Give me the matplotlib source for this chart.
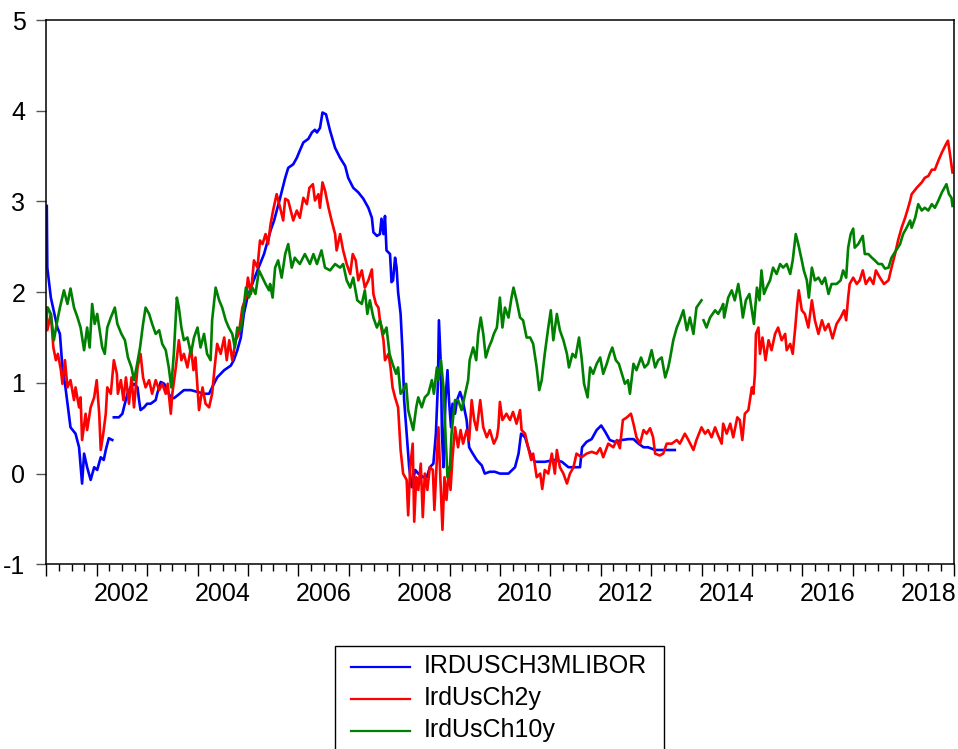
import numpy as np
import matplotlib
matplotlib.use('Agg')
import matplotlib.pyplot as plt
from matplotlib.lines import Line2D
from matplotlib.patches import Rectangle

plt.rcParams['font.family'] = ['Liberation Sans', 'DejaVu Sans']

# (decimal year, percent)
libor = [
    (2001.01, 2.95), (2001.02, 2.27), (2001.09, 1.94), (2001.22, 1.61), (2001.27, 1.54),
    (2001.32, 1.17), (2001.38, 0.95), (2001.43, 0.73), (2001.48, 0.51), (2001.58, 0.44),
    (2001.65, 0.29), (2001.71, -0.11), (2001.75, 0.22), (2001.81, 0.07), (2001.88, -0.07),
    (2001.95, 0.07), (2002.01, 0.04), (2002.08, 0.18), (2002.14, 0.15), (2002.18, 0.26),
    (2002.24, 0.39), (2002.31, 0.37), (2002.325, np.nan),
    (2002.34, 0.62), (2002.44, 0.62), (2002.51, 0.66), (2002.54, 0.73), (2002.61, 0.88),
    (2002.67, 0.95), (2002.74, 0.99), (2002.81, 0.95), (2002.84, 0.81), (2002.87, 0.70),
    (2002.94, 0.73), (2003.00, 0.77), (2003.07, 0.77), (2003.17, 0.81), (2003.20, 0.88),
    (2003.27, 1.01), (2003.34, 0.99), (2003.43, 0.88), (2003.47, 0.84), (2003.53, 0.83),
    (2003.60, 0.86), (2003.73, 0.92), (2003.87, 0.92), (2004.00, 0.90), (2004.13, 0.88),
    (2004.23, 0.88), (2004.29, 0.95), (2004.39, 1.06), (2004.53, 1.14), (2004.66, 1.19),
    (2004.72, 1.25), (2004.79, 1.36), (2004.86, 1.50), (2004.92, 1.76), (2004.99, 1.94),
    (2005.06, 2.05), (2005.19, 2.24), (2005.32, 2.42), (2005.45, 2.68), (2005.52, 2.79),
    (2005.64, 3.04), (2005.74, 3.26), (2005.80, 3.37), (2005.90, 3.41), (2005.97, 3.48),
    (2006.03, 3.56), (2006.10, 3.65), (2006.20, 3.69), (2006.27, 3.76), (2006.33, 3.79),
    (2006.37, 3.76), (2006.43, 3.81), (2006.48, 3.98), (2006.55, 3.96), (2006.63, 3.78),
    (2006.73, 3.59), (2006.83, 3.48), (2006.93, 3.39), (2006.99, 3.26), (2007.09, 3.15),
    (2007.19, 3.10), (2007.29, 3.03), (2007.39, 2.93), (2007.46, 2.82), (2007.49, 2.66),
    (2007.56, 2.62), (2007.62, 2.64), (2007.65, 2.81), (2007.69, 2.64), (2007.72, 2.84),
    (2007.75, 2.46), (2007.82, 2.42), (2007.85, 2.11), (2007.88, 2.13), (2007.92, 2.38),
    (2007.95, 2.27), (2007.98, 2.00), (2008.03, 1.76), (2008.07, 1.32), (2008.10, 0.81),
    (2008.15, 0.44), (2008.20, 0.07), (2008.25, -0.15), (2008.32, 0.04), (2008.38, 0.00),
    (2008.48, -0.04), (2008.55, -0.04), (2008.61, 0.07), (2008.68, 0.11), (2008.73, 0.44),
    (2008.77, 0.99), (2008.79, 1.69), (2008.83, 1.17), (2008.85, 0.44), (2008.88, 0.07),
    (2008.92, 0.81), (2008.96, 1.14), (2008.99, 0.81), (2009.03, 0.51), (2009.06, 0.77),
    (2009.11, 0.66), (2009.15, 0.81), (2009.21, 0.90), (2009.26, 0.81), (2009.34, 0.59),
    (2009.39, 0.29), (2009.44, 0.24), (2009.54, 0.15), (2009.64, 0.09), (2009.70, 0.00),
    (2009.80, 0.02), (2009.90, 0.02), (2010.00, 0.00), (2010.17, 0.00), (2010.30, 0.07),
    (2010.37, 0.22), (2010.42, 0.44), (2010.50, 0.40), (2010.56, 0.29), (2010.63, 0.18),
    (2010.70, 0.13), (2010.89, 0.13), (2011.09, 0.15), (2011.23, 0.13), (2011.36, 0.07),
    (2011.59, 0.07), (2011.63, 0.29), (2011.72, 0.35), (2011.82, 0.38), (2011.92, 0.48),
    (2012.01, 0.53), (2012.09, 0.46), (2012.18, 0.37), (2012.28, 0.35), (2012.42, 0.37),
    (2012.55, 0.38), (2012.65, 0.38), (2012.75, 0.33), (2012.85, 0.29), (2012.94, 0.29),
    (2013.08, 0.26), (2013.21, 0.26), (2013.34, 0.26), (2013.47, 0.26),
]

ch2y = [
    (2001.00, 1.83), (2001.02, 1.58), (2001.09, 1.76), (2001.14, 1.39), (2001.19, 1.25),
    (2001.23, 1.32), (2001.29, 1.14), (2001.32, 0.99), (2001.37, 1.25), (2001.42, 0.95),
    (2001.48, 1.03), (2001.55, 0.81), (2001.58, 0.95), (2001.65, 0.73), (2001.68, 0.84),
    (2001.71, 0.37), (2001.78, 0.66), (2001.81, 0.48), (2001.88, 0.73), (2001.95, 0.84),
    (2002.00, 1.03), (2002.05, 0.66), (2002.08, 0.26), (2002.13, 0.44), (2002.18, 0.66),
    (2002.21, 0.95), (2002.28, 0.88), (2002.34, 1.25), (2002.40, 1.10), (2002.42, 0.88),
    (2002.48, 1.03), (2002.53, 0.81), (2002.58, 1.06), (2002.64, 0.77), (2002.69, 1.06),
    (2002.74, 0.73), (2002.81, 1.17), (2002.87, 1.32), (2002.92, 1.06), (2002.97, 0.95),
    (2003.04, 1.03), (2003.10, 0.88), (2003.17, 1.03), (2003.24, 0.92), (2003.30, 0.99),
    (2003.37, 0.88), (2003.41, 0.99), (2003.47, 0.66), (2003.50, 0.88), (2003.57, 1.17),
    (2003.63, 1.47), (2003.68, 1.25), (2003.73, 1.32), (2003.80, 1.17), (2003.87, 1.39),
    (2003.92, 1.14), (2003.96, 1.28), (2004.00, 0.95), (2004.03, 0.70), (2004.10, 0.95),
    (2004.16, 0.77), (2004.23, 0.73), (2004.29, 0.88), (2004.34, 1.17), (2004.39, 1.43),
    (2004.46, 1.32), (2004.53, 1.50), (2004.58, 1.25), (2004.63, 1.47), (2004.69, 1.25),
    (2004.76, 1.47), (2004.82, 1.54), (2004.89, 1.83), (2004.96, 1.94), (2005.00, 2.16),
    (2005.06, 1.98), (2005.12, 2.35), (2005.19, 2.27), (2005.24, 2.57), (2005.29, 2.53),
    (2005.35, 2.64), (2005.40, 2.53), (2005.45, 2.75), (2005.50, 2.90), (2005.57, 3.08),
    (2005.64, 2.93), (2005.70, 2.79), (2005.74, 3.03), (2005.80, 3.01), (2005.90, 2.79),
    (2005.97, 2.90), (2006.03, 2.82), (2006.10, 3.04), (2006.17, 2.97), (2006.22, 3.15),
    (2006.29, 3.19), (2006.33, 3.01), (2006.40, 3.08), (2006.43, 2.93), (2006.48, 3.21),
    (2006.53, 3.12), (2006.60, 2.93), (2006.66, 2.79), (2006.73, 2.64), (2006.76, 2.46),
    (2006.83, 2.64), (2006.89, 2.46), (2006.96, 2.31), (2007.03, 2.20), (2007.08, 2.42),
    (2007.14, 2.35), (2007.19, 2.13), (2007.26, 2.24), (2007.32, 2.05), (2007.39, 2.13),
    (2007.46, 2.25), (2007.49, 1.98), (2007.54, 1.87), (2007.59, 1.83), (2007.62, 1.69),
    (2007.69, 1.47), (2007.72, 1.25), (2007.79, 1.32), (2007.83, 1.17), (2007.87, 0.95),
    (2007.92, 0.84), (2007.98, 0.73), (2008.03, 0.26), (2008.08, 0.00), (2008.15, -0.07),
    (2008.18, -0.46), (2008.22, 0.07), (2008.27, 0.33), (2008.30, -0.53), (2008.34, -0.04),
    (2008.38, -0.18), (2008.43, 0.11), (2008.47, -0.48), (2008.51, 0.00), (2008.56, -0.18),
    (2008.61, 0.07), (2008.67, 0.04), (2008.70, -0.40), (2008.75, 0.18), (2008.78, 0.51),
    (2008.81, 0.07), (2008.86, -0.62), (2008.90, -0.04), (2008.94, -0.29), (2008.99, 0.07),
    (2009.02, -0.18), (2009.06, 0.18), (2009.11, 0.51), (2009.17, 0.29), (2009.22, 0.48),
    (2009.27, 0.33), (2009.34, 0.48), (2009.39, 0.37), (2009.44, 0.81), (2009.49, 0.59),
    (2009.54, 0.48), (2009.61, 0.81), (2009.67, 0.51), (2009.74, 0.40), (2009.80, 0.48),
    (2009.88, 0.33), (2009.94, 0.40), (2009.97, 0.51), (2010.00, 0.79), (2010.05, 0.59),
    (2010.13, 0.66), (2010.20, 0.59), (2010.26, 0.68), (2010.33, 0.55), (2010.40, 0.70),
    (2010.43, 0.48), (2010.50, 0.44), (2010.56, 0.29), (2010.62, 0.15), (2010.66, 0.22),
    (2010.73, -0.04), (2010.80, 0.00), (2010.84, -0.17), (2010.89, 0.04), (2010.96, 0.00),
    (2011.03, 0.22), (2011.09, 0.00), (2011.13, 0.26), (2011.19, 0.07), (2011.26, 0.00),
    (2011.33, -0.11), (2011.39, 0.00), (2011.46, 0.07), (2011.52, 0.22), (2011.62, 0.18),
    (2011.72, 0.22), (2011.82, 0.24), (2011.92, 0.22), (2011.99, 0.28), (2012.05, 0.18),
    (2012.15, 0.33), (2012.25, 0.29), (2012.32, 0.37), (2012.38, 0.28), (2012.44, 0.59),
    (2012.52, 0.62), (2012.60, 0.66), (2012.65, 0.55), (2012.71, 0.40), (2012.78, 0.33),
    (2012.85, 0.48), (2012.91, 0.44), (2012.98, 0.50), (2013.04, 0.40), (2013.08, 0.22),
    (2013.17, 0.20), (2013.24, 0.22), (2013.31, 0.33), (2013.41, 0.33), (2013.51, 0.37),
    (2013.57, 0.33), (2013.67, 0.44), (2013.74, 0.37), (2013.84, 0.26), (2013.90, 0.37),
    (2014.00, 0.51), (2014.07, 0.44), (2014.13, 0.48), (2014.20, 0.40), (2014.27, 0.51),
    (2014.33, 0.42), (2014.40, 0.33), (2014.43, 0.55), (2014.50, 0.44), (2014.57, 0.55),
    (2014.63, 0.40), (2014.71, 0.62), (2014.76, 0.59), (2014.81, 0.37), (2014.86, 0.66),
    (2014.93, 0.70), (2015.00, 0.95), (2015.03, 0.88), (2015.06, 1.10), (2015.08, 1.54),
    (2015.13, 1.61), (2015.16, 1.32), (2015.21, 1.50), (2015.27, 1.25), (2015.33, 1.47),
    (2015.39, 1.36), (2015.46, 1.54), (2015.52, 1.61), (2015.59, 1.47), (2015.66, 1.54),
    (2015.69, 1.36), (2015.76, 1.43), (2015.81, 1.32), (2015.86, 1.61), (2015.90, 1.87),
    (2015.93, 2.02), (2015.99, 1.80), (2016.05, 1.76), (2016.12, 1.61), (2016.19, 1.91),
    (2016.25, 1.69), (2016.32, 1.54), (2016.39, 1.69), (2016.45, 1.58), (2016.52, 1.65),
    (2016.60, 1.49), (2016.68, 1.65), (2016.76, 1.72), (2016.83, 1.80), (2016.87, 1.69),
    (2016.91, 1.94), (2016.94, 2.09), (2017.01, 2.16), (2017.08, 2.09), (2017.14, 2.13),
    (2017.20, 2.24), (2017.26, 2.09), (2017.34, 2.16), (2017.41, 2.09), (2017.46, 2.24),
    (2017.54, 2.16), (2017.62, 2.09), (2017.71, 2.13), (2017.77, 2.27), (2017.84, 2.42),
    (2017.90, 2.57), (2017.97, 2.71), (2018.04, 2.82), (2018.10, 2.93), (2018.14, 3.01),
    (2018.17, 3.08), (2018.27, 3.15), (2018.37, 3.21), (2018.43, 3.26), (2018.50, 3.28),
    (2018.57, 3.35), (2018.63, 3.35), (2018.70, 3.45), (2018.77, 3.54), (2018.85, 3.63),
    (2018.89, 3.67), (2018.93, 3.52), (2018.98, 3.32),
]

ch10y = [
    (2001.00, 1.69), (2001.03, 1.83), (2001.09, 1.76), (2001.15, 1.47), (2001.22, 1.69),
    (2001.27, 1.83), (2001.35, 2.02), (2001.42, 1.87), (2001.48, 2.04), (2001.55, 1.83),
    (2001.62, 1.72), (2001.68, 1.61), (2001.75, 1.36), (2001.81, 1.61), (2001.86, 1.39),
    (2001.91, 1.87), (2001.96, 1.65), (2002.01, 1.76), (2002.07, 1.54), (2002.11, 1.39),
    (2002.16, 1.32), (2002.21, 1.61), (2002.28, 1.72), (2002.36, 1.83), (2002.41, 1.65),
    (2002.49, 1.54), (2002.56, 1.47), (2002.62, 1.28), (2002.69, 1.17), (2002.74, 1.03),
    (2002.79, 1.17), (2002.86, 1.39), (2002.92, 1.65), (2002.97, 1.83), (2003.04, 1.76),
    (2003.10, 1.65), (2003.17, 1.54), (2003.24, 1.58), (2003.30, 1.43), (2003.37, 1.36),
    (2003.43, 1.17), (2003.48, 0.95), (2003.53, 1.32), (2003.59, 1.94), (2003.63, 1.83),
    (2003.68, 1.61), (2003.73, 1.47), (2003.80, 1.50), (2003.87, 1.32), (2003.93, 1.50),
    (2004.00, 1.61), (2004.06, 1.39), (2004.13, 1.54), (2004.19, 1.32), (2004.26, 1.25),
    (2004.29, 1.69), (2004.36, 2.05), (2004.43, 1.91), (2004.49, 1.83), (2004.56, 1.69),
    (2004.62, 1.61), (2004.69, 1.54), (2004.74, 1.39), (2004.79, 1.61), (2004.86, 1.58),
    (2004.91, 1.80), (2004.96, 2.05), (2005.02, 1.94), (2005.09, 2.05), (2005.15, 1.98),
    (2005.22, 2.24), (2005.29, 2.16), (2005.35, 2.09), (2005.42, 2.02), (2005.44, 2.09),
    (2005.49, 1.94), (2005.54, 2.27), (2005.60, 2.35), (2005.67, 2.16), (2005.74, 2.42),
    (2005.80, 2.53), (2005.87, 2.27), (2005.93, 2.38), (2006.03, 2.31), (2006.13, 2.42),
    (2006.23, 2.31), (2006.30, 2.42), (2006.37, 2.31), (2006.46, 2.46), (2006.53, 2.27),
    (2006.63, 2.24), (2006.73, 2.31), (2006.83, 2.27), (2006.89, 2.31), (2006.96, 2.13),
    (2007.03, 2.05), (2007.09, 2.16), (2007.17, 1.91), (2007.26, 1.87), (2007.32, 2.02),
    (2007.37, 1.76), (2007.42, 1.91), (2007.49, 1.72), (2007.56, 1.61), (2007.62, 1.69),
    (2007.69, 1.54), (2007.75, 1.61), (2007.81, 1.32), (2007.87, 1.21), (2007.94, 1.10),
    (2007.98, 1.17), (2008.03, 0.88), (2008.08, 0.92), (2008.14, 0.99), (2008.18, 0.70),
    (2008.23, 0.59), (2008.28, 0.48), (2008.34, 0.73), (2008.38, 0.84), (2008.45, 0.73),
    (2008.51, 0.84), (2008.58, 0.88), (2008.65, 1.03), (2008.69, 0.88), (2008.75, 1.17),
    (2008.78, 1.03), (2008.83, 1.25), (2008.88, 0.95), (2008.92, 0.44), (2008.96, -0.04),
    (2009.01, 0.07), (2009.04, 0.44), (2009.08, 0.66), (2009.11, 0.81), (2009.17, 0.81),
    (2009.24, 0.70), (2009.31, 0.88), (2009.37, 1.03), (2009.40, 1.25), (2009.47, 1.39),
    (2009.53, 1.25), (2009.57, 1.54), (2009.62, 1.72), (2009.67, 1.54), (2009.72, 1.28),
    (2009.78, 1.39), (2009.84, 1.47), (2009.88, 1.54), (2009.94, 1.61), (2010.00, 1.94),
    (2010.05, 1.61), (2010.10, 1.83), (2010.17, 1.72), (2010.23, 1.94), (2010.27, 2.05),
    (2010.33, 1.91), (2010.40, 1.72), (2010.46, 1.69), (2010.53, 1.50), (2010.60, 1.50),
    (2010.66, 1.43), (2010.73, 1.17), (2010.78, 0.92), (2010.83, 1.03), (2010.89, 1.32),
    (2010.96, 1.61), (2011.01, 1.80), (2011.06, 1.47), (2011.13, 1.76), (2011.19, 1.58),
    (2011.26, 1.47), (2011.33, 1.32), (2011.37, 1.17), (2011.44, 1.32), (2011.50, 1.28),
    (2011.57, 1.50), (2011.62, 1.28), (2011.67, 0.99), (2011.74, 0.84), (2011.79, 1.17),
    (2011.85, 1.10), (2011.92, 1.21), (2011.99, 1.28), (2012.05, 1.10), (2012.12, 1.21),
    (2012.18, 1.32), (2012.23, 1.39), (2012.30, 1.25), (2012.36, 1.21), (2012.42, 1.10),
    (2012.48, 0.99), (2012.54, 1.03), (2012.58, 0.88), (2012.65, 1.21), (2012.71, 1.14),
    (2012.80, 1.28), (2012.87, 1.17), (2012.94, 1.21), (2013.01, 1.36), (2013.08, 1.17),
    (2013.14, 1.25), (2013.21, 1.28), (2013.28, 1.06), (2013.34, 1.17), (2013.38, 1.28),
    (2013.44, 1.47), (2013.51, 1.61), (2013.57, 1.69), (2013.64, 1.80), (2013.71, 1.58),
    (2013.77, 1.72), (2013.84, 1.54), (2013.90, 1.83), (2014.00, 1.91), (2014.02, np.nan),
    (2014.04, 1.69),
    (2014.10, 1.61), (2014.17, 1.72), (2014.27, 1.80), (2014.33, 1.76), (2014.40, 1.83),
    (2014.43, 1.87), (2014.45, 1.72), (2014.53, 1.94), (2014.60, 2.02), (2014.66, 1.91),
    (2014.73, 2.09), (2014.78, 1.91), (2014.82, 1.72), (2014.88, 1.91), (2014.95, 1.98),
    (2015.00, 1.80), (2015.04, 1.65), (2015.10, 2.05), (2015.15, 1.91), (2015.19, 2.24),
    (2015.24, 1.98), (2015.29, 2.05), (2015.36, 2.13), (2015.42, 2.27), (2015.49, 2.20),
    (2015.56, 2.31), (2015.62, 2.27), (2015.69, 2.31), (2015.76, 2.20), (2015.81, 2.35),
    (2015.87, 2.64), (2015.92, 2.53), (2015.99, 2.35), (2016.03, 2.24), (2016.09, 2.13),
    (2016.13, 1.94), (2016.19, 2.27), (2016.25, 2.13), (2016.32, 2.16), (2016.39, 2.09),
    (2016.45, 2.16), (2016.52, 1.98), (2016.58, 2.09), (2016.68, 2.09), (2016.76, 2.13),
    (2016.81, 2.24), (2016.87, 2.16), (2016.91, 2.49), (2016.96, 2.64), (2017.01, 2.70),
    (2017.04, 2.49), (2017.11, 2.53), (2017.20, 2.62), (2017.24, 2.42), (2017.31, 2.42),
    (2017.38, 2.38), (2017.44, 2.35), (2017.51, 2.31), (2017.58, 2.31), (2017.64, 2.26),
    (2017.71, 2.27), (2017.77, 2.38), (2017.86, 2.46), (2017.94, 2.53), (2018.00, 2.64),
    (2018.07, 2.71), (2018.14, 2.79), (2018.17, 2.71), (2018.24, 2.82), (2018.30, 2.97),
    (2018.37, 2.90), (2018.43, 2.93), (2018.50, 2.90), (2018.57, 2.97), (2018.63, 2.93),
    (2018.70, 3.01), (2018.77, 3.10), (2018.82, 3.15), (2018.86, 3.19), (2018.91, 3.08),
    (2018.96, 3.04), (2018.98, 2.95),
]

series_names = ['IRDUSCH3MLIBOR', 'IrdUsCh2y', 'IrdUsCh10y']
series_colors = ['#0000ff', '#ff0000', '#008000']
y_ticks = [-1, 0, 1, 2, 3, 4, 5]
label_years = list(range(2002, 2019, 2))

W, H = 958, 749
fig = plt.figure(figsize=(W / 100, H / 100), dpi=100)
ax = fig.add_axes([46.3 / W, 1 - 564.3 / H, 907.2 / W, 544.3 / H])

for data, col in zip([libor, ch2y, ch10y], series_colors):
    arr = np.array(data)
    ax.plot(arr[:, 0], arr[:, 1], color=col, lw=1.9)

ax.set_xlim(2001, 2019)
ax.set_ylim(-1, 5)

ax.set_yticks(y_ticks)
ax.set_yticklabels([str(v) for v in y_ticks])
ax.tick_params(axis='y', direction='out', length=7.5, width=1, color='#555555',
               pad=7.5, labelsize=18)

ax.set_xticks(np.arange(2001, 2020))
ax.set_xticks(np.arange(2001, 2019.01, 0.25), minor=True)
ax.tick_params(axis='x', which='major', direction='out', length=8.5, width=1,
               labelbottom=False)
ax.tick_params(axis='x', which='minor', direction='out', length=5, width=1)

# year labels sit in the middle of each year
sec = ax.secondary_xaxis('bottom')
sec.set_xticks([y + 0.5 for y in label_years], [str(y) for y in label_years])
sec.tick_params(length=0, pad=13, labelsize=18)
sec.spines['bottom'].set_visible(False)

for s in ax.spines.values():
    s.set_linewidth(1.1)

# legend box below the plot
def fy(p):
    return 1 - p / H

fig.add_artist(Rectangle((335 / W, fy(765)), (664.3 - 335) / W, (765 - 646) / H,
                         transform=fig.transFigure, fill=False, ec='black', lw=1))
for i, (name, col) in enumerate(zip(series_names, series_colors)):
    row = 667.3 + 32 * i
    fig.add_artist(Line2D([351 / W, 410 / W], [fy(row), fy(row)],
                          transform=fig.transFigure, color=col, lw=1.6))
    fig.text(424 / W, fy(row + 6), name, fontsize=18, va='baseline')

fig.savefig('out.png', dpi=100)
